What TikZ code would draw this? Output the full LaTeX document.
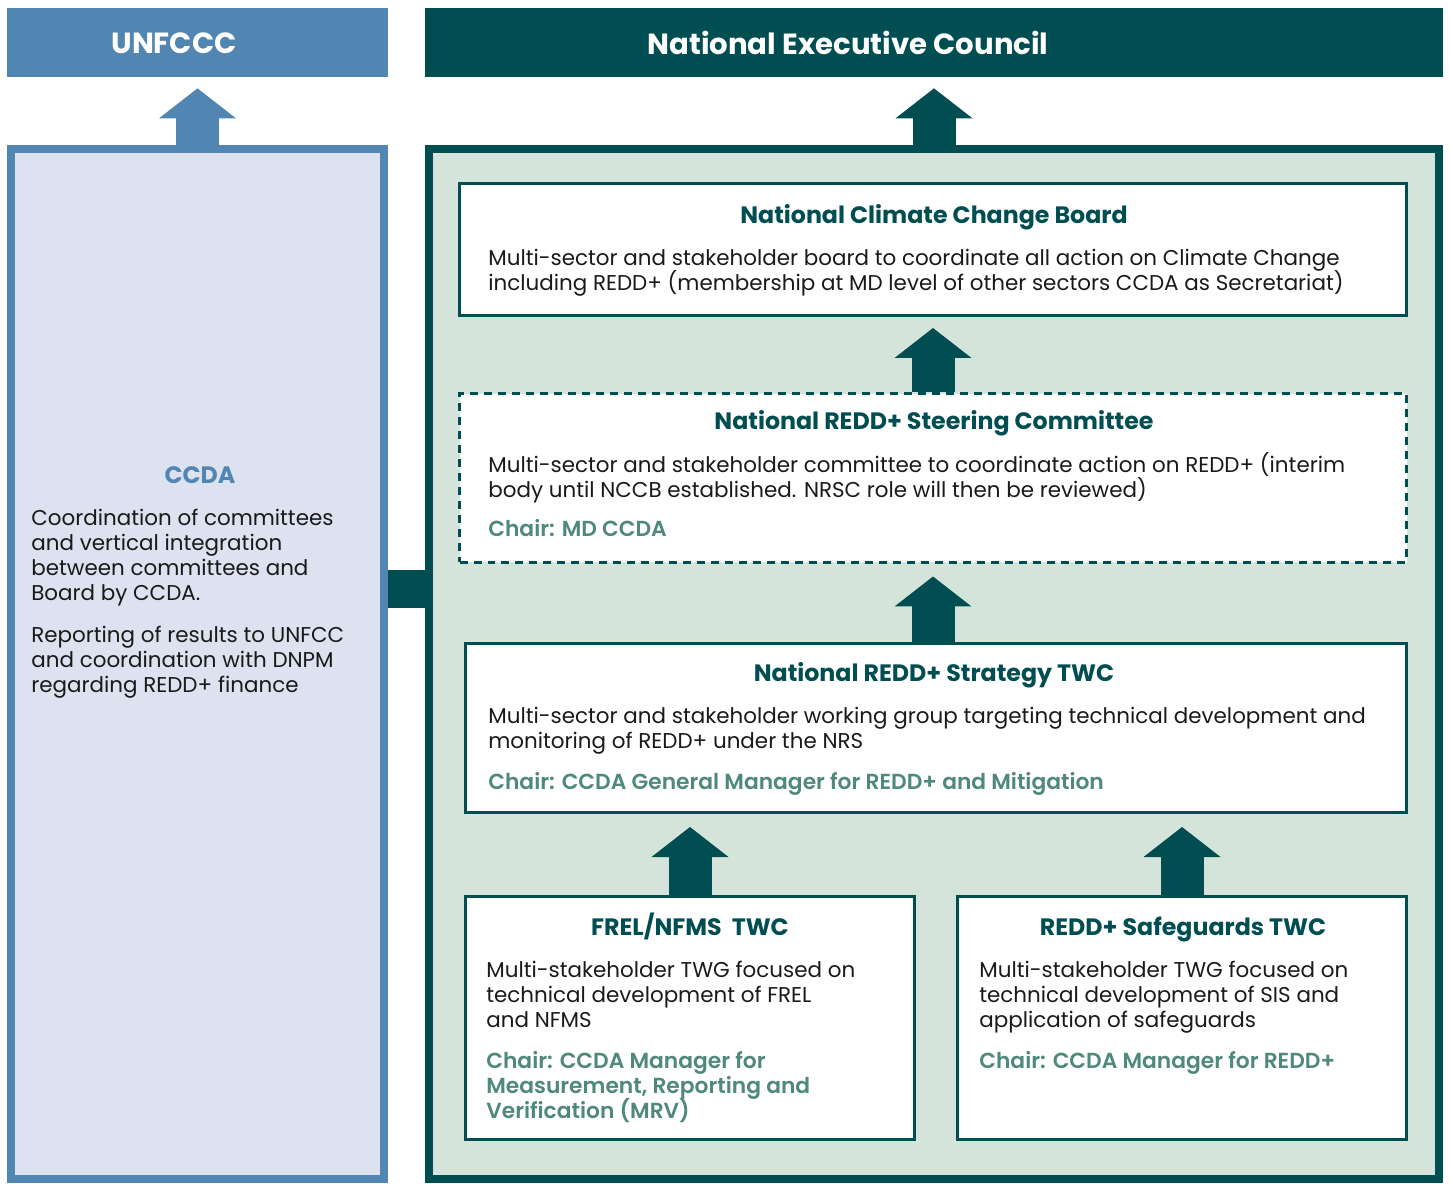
\documentclass[tikz,border=0pt]{standalone}
\usepackage{fontspec}
\setmainfont{Poppins}
\newfontfamily\chairfont{Poppins SemiBold}
\usetikzlibrary{positioning, fit, arrows.meta}

\definecolor{unblue}{RGB}{81,134,178}
\definecolor{necteal}{RGB}{0,77,82}
\definecolor{ccdafill}{RGB}{220,226,239}
\definecolor{contfill}{RGB}{213,228,218}
\definecolor{chairgreen}{RGB}{78,137,124}
\definecolor{bodyblack}{RGB}{26,26,26}

\newcommand\fixedlines{\lineskiplimit=-20pt\relax\strut}

\tikzset{
headbox/.style={inner sep=0},
headtext/.style={inner sep=0, text=white, font=\fontsize{16.6}{20}\selectfont\bfseries},
outerbox/.style={draw, line width=0.16cm, inner sep=0},
whitebox/.style={draw=necteal, fill=white, line width=0.06cm, inner sep=0},
dashbox/.style={whitebox, dash pattern=on 0.16cm off 0.12cm},
boxtitle/.style={anchor=base, inner sep=0, text=necteal, font=\fontsize{13.5}{16}\selectfont\bfseries},
bodytext/.style={anchor=north west, inner sep=0, align=left, text=bodyblack,
    font=\fontsize{12.2}{14.23}\selectfont, execute at begin node=\fixedlines},
chairtext/.style={bodytext, text=chairgreen, font=\fontsize{12.4}{14.23}\chairfont},
uparrow/.style={line width=0.86cm, -{Triangle[width=1.54cm, length=0.6cm, line width=0pt]}},
}

\begin{document}
\begin{tikzpicture}[x=0.02cm, y=-0.02cm]
    \useasboundingbox (0,0) rectangle (1450,1183);

    %top boxes
    \node[headbox, fill=unblue, fit={(7,8) (388,77)}]     (un)  {};
    \node[headbox, fill=necteal, fit={(425,8) (1443,77)}] (nec) {};
    \node[headtext] (unt)  at (174,43) {UNFCCC};
    \node[headtext] (nect) at (848,43) {National Executive Council};

    %left column
    \node[outerbox, draw=unblue, fill=ccdafill, fit={(11,149) (384,1179)}] (ccda) {};
    \node[boxtitle, text=unblue] (ccdat) at (200,483) {CCDA};
    \node[bodytext] (ccda1) at (31,509) {Coordination of committees\\and vertical integration\\between committees and\\Board by CCDA.};
    \node[bodytext] (ccda2) at (31,626) {Reporting of results to UNFCC\\and coordination with DNPM\\regarding REDD+ finance};

    %right column
    \node[outerbox, draw=necteal, fill=contfill, fit={(429,149) (1439,1179)}] (cont) {};

    %board
    \node[whitebox, fit={(459.5,183.5) (1406.5,315.5)}] (board) {};
    \node[boxtitle] (boardt) at (934,223.5) {National Climate Change Board};
    \node[bodytext] (boardb) at (488,249) {Multi-sector and stakeholder board to coordinate all action on Climate Change\\including REDD+ (membership at MD level of other sectors CCDA as Secretariat)};

    %steering committee
    \node[dashbox, fit={(459.5,393.5) (1406.5,562)}] (steer) {};
    \node[boxtitle] (steert) at (934,429.5) {National REDD+ Steering Committee};
    \node[bodytext] (steerb) at (488,452) {Multi-sector and stakeholder committee to coordinate action on REDD+ (interim\\body until NCCB established. NRSC role will then be reviewed)};
    \node[chairtext] (steerc) at (488,519) {Chair: MD CCDA};

    %strategy TWC
    \node[whitebox, fit={(465.5,643.5) (1406.5,812.5)}] (strat) {};
    \node[boxtitle] (stratt) at (934,681.5) {National REDD+ Strategy TWC};
    \node[bodytext] (stratb) at (488,707) {Multi-sector and stakeholder working group targeting technical development and\\monitoring of REDD+ under the NRS};
    \node[chairtext] (stratc) at (488,772) {Chair: CCDA General Manager for REDD+ and Mitigation};

    %bottom TWCs
    \node[whitebox, fit={(465.5,896.5) (914.5,1139.5)}] (frel) {};
    \node[boxtitle] (frelt) at (690,935.5) {FREL/NFMS\ \ TWC};
    \node[bodytext] (frelb) at (486,961) {Multi-stakeholder TWG focused on\\technical development of FREL\\and NFMS};
    \node[chairtext] (frelc) at (486,1051) {Chair: CCDA Manager for\\Measurement, Reporting and\\Verification (MRV)};

    \node[whitebox, fit={(957.5,896.5) (1406.5,1139.5)}] (safe) {};
    \node[boxtitle] (safet) at (1183,935.5) {REDD+ Safeguards TWC};
    \node[bodytext] (safeb) at (979,961) {Multi-stakeholder TWG focused on\\technical development of SIS and\\application of safeguards};
    \node[chairtext] (safec) at (979,1051) {Chair: CCDA Manager for REDD+};

    %arrows
    \draw[uparrow, unblue]  (ccda.north) -- ([yshift=-0.22cm]un.south);
    \draw[uparrow, necteal] (cont.north) -- ([yshift=-0.22cm]nec.south);
    \draw[uparrow, necteal] (steer.north) -- ([yshift=-0.22cm]board.south);
    \draw[uparrow, necteal] (strat.north -| steer.north) -- ([yshift=-0.26cm]steer.south);
    \draw[uparrow, necteal] (frel.north) -- ([yshift=-0.26cm]strat.south -| frel.north);
    \draw[uparrow, necteal] (safe.north) -- ([yshift=-0.26cm]strat.south -| safe.north);

    %link between columns
    \coordinate (link) at (0,589);
    \draw[necteal, line width=0.76cm] (ccda.east |- link) -- (cont.west |- link);

\end{tikzpicture}
\end{document}
